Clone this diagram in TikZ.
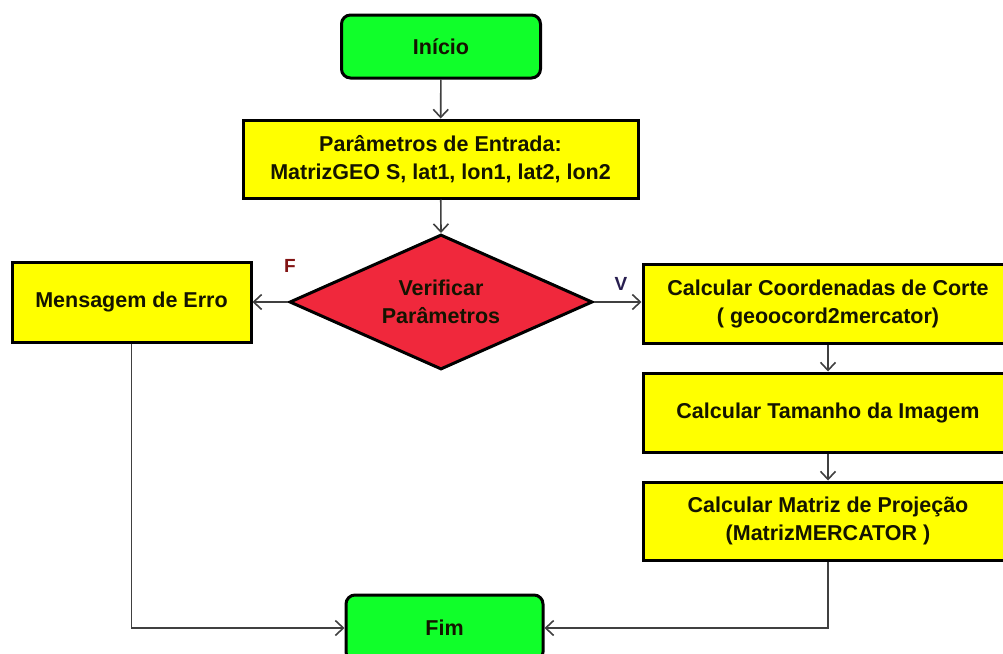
\documentclass[tikz,border=0pt]{standalone}
\usepackage{fontspec}
\setmainfont{Liberation Sans}
\usetikzlibrary{shapes.geometric,arrows.meta}
\definecolor{termgreen}{RGB}{16,255,42}
\definecolor{procyellow}{RGB}{255,255,0}
\definecolor{decred}{RGB}{240,40,60}
\definecolor{linegray}{RGB}{64,64,64}
\definecolor{flabel}{RGB}{130,20,20}
\definecolor{vlabel}{RGB}{40,30,80}
\tikzset{
  base/.style={draw=black, line width=3pt, inner sep=0pt, align=center,
    font=\fontsize{21.5}{28}\selectfont\bfseries, text={rgb,255:red,20;green,20;blue,0}},
  term/.style={base, fill=termgreen, rounded corners=9pt},
  proc/.style={base, fill=procyellow},
  dec/.style={base, fill=decred, shape=diamond, aspect=2.24},
  conn/.style={draw=linegray, line width=1.6pt,
    -{Straight Barb[length=8pt,width=15pt,line width=1.6pt]}},
  lbl/.style={font=\fontsize{19}{22}\selectfont\bfseries, inner sep=0pt}
}
\begin{document}
\begin{tikzpicture}[x=1pt,y=-1pt]
\clip (0,0) rectangle (1003,653);
\fill[white] (0,0) rectangle (1003,653);

\node[term, minimum width=199pt, minimum height=63pt] (inicio) at (441,46.5) {Início};
\node[proc, minimum width=395pt, minimum height=78pt] (param) at (440.5,159)
  {Parâmetros de Entrada:\\MatrizGEO S, lat1, lon1, lat2, lon2};
\node[dec, minimum width=303pt, minimum height=135pt] (verif) at (441,302)
  {Verificar\\Parâmetros};
\node[proc, minimum width=239pt, minimum height=80pt] (erro) at (131.5,302)
  {Mensagem de Erro};
\node[proc, minimum width=370pt, minimum height=79pt] (coord) at (828,303.5)
  {Calcular Coordenadas de Corte\\( geoocord2mercator)};
\node[proc, minimum width=370pt, minimum height=79pt] (tam) at (828,412.5)
  {Calcular Tamanho da Imagem};
\node[proc, minimum width=370pt, minimum height=78pt] (mat) at (828,521)
  {Calcular Matriz de Projeção\\(MatrizMERCATOR )};
\node[term, minimum width=197pt, minimum height=66pt] (fim) at (444.5,628) {Fim};

\node[lbl, text=flabel] (flab) at (290,266) {F};
\node[lbl, text=vlabel] (vlab) at (621,284) {V};

\draw[conn] (inicio) -- (param);
\draw[conn] (param) -- (verif.north);
\draw[conn] (verif.west) -- (erro.east);
\draw[conn] (verif.east) -- (verif.east -| coord.west);
\draw[conn] (coord) -- (tam);
\draw[conn] (tam) -- (mat);
\draw[conn] (erro.south) |- (fim.west);
\draw[conn] (mat.south) |- (fim.east);
\end{tikzpicture}
\end{document}
